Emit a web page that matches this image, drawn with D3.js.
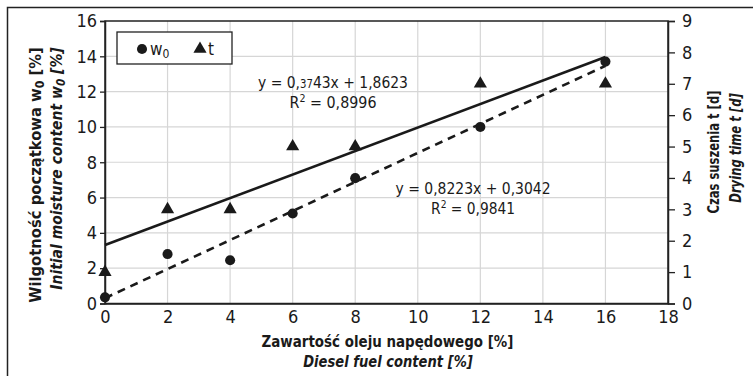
<!DOCTYPE html>
<html><head><meta charset="utf-8">
<script src="https://cdn.jsdelivr.net/npm/d3@7"></script>
<style>
body{margin:0;background:#fff;}
svg{display:block;}
text{font-family:"Liberation Sans Narrow","DejaVu Sans Condensed",sans-serif;fill:#1a1a1a;}
</style></head><body>
<svg id="c" width="753" height="376"></svg>
<script>
// ---- data ----
const dieselContent = [0, 2, 4, 6, 8, 12, 16];
const moistureW0 = [0.35, 2.8, 2.45, 5.1, 7.1, 10.0, 13.7];
const dryingTime = [1, 3, 3, 5, 5, 7, 7];
const xTicks = [0, 2, 4, 6, 8, 10, 12, 14, 16, 18];
const yLeftTicks = [0, 2, 4, 6, 8, 10, 12, 14, 16];
const yRightTicks = [0, 1, 2, 3, 4, 5, 6, 7, 8, 9];
const fitW0 = {slope: 0.8223, intercept: 0.3042};
const fitT = {slope: 0.3743, intercept: 1.8623};

const svg = d3.select("#c");
const L = 105, R = 668, T = 21, B = 303.5;
const x = d3.scaleLinear().domain([0, 18]).range([L, R]);
const yL = d3.scaleLinear().domain([0, 16]).range([B, T]);
const yR = d3.scaleLinear().domain([0, 9]).range([B, T]);

// figure frame (left & top)
svg.append("path").attr("d", "M7.5,376 V7.5 H753").attr("fill", "none").attr("stroke", "#222").attr("stroke-width", 1.5);

// grid
const g = svg.append("g");
g.selectAll(".gx").data(xTicks.filter(d => d > 0 && d < 18)).enter().append("line")
  .attr("x1", d => x(d)).attr("x2", d => x(d)).attr("y1", T).attr("y2", B)
  .attr("stroke", "#d6d6d6").attr("stroke-width", 1.2);
g.selectAll(".gy").data(yLeftTicks.filter(d => d > 0 && d < 16)).enter().append("line")
  .attr("x1", L).attr("x2", R).attr("y1", d => yL(d)).attr("y2", d => yL(d))
  .attr("stroke", "#d6d6d6").attr("stroke-width", 1.2);

// plot border
svg.append("rect").attr("x", L).attr("y", T).attr("width", R - L).attr("height", B - T)
  .attr("fill", "none").attr("stroke", "#222").attr("stroke-width", 1.5);

// axes
const fs = "18px";
const ax = svg.append("g").attr("transform", `translate(0,${B})`)
  .call(d3.axisBottom(x).tickValues(xTicks).tickSize(0).tickPadding(6));
const al = svg.append("g").attr("transform", `translate(${L},0)`)
  .call(d3.axisLeft(yL).tickValues(yLeftTicks).tickSize(5).tickPadding(3));
const ar = svg.append("g").attr("transform", `translate(${R},0)`)
  .call(d3.axisRight(yR).tickValues(yRightTicks).tickSize(7).tickPadding(7));
[ax, al, ar].forEach(a => {
  a.select(".domain").attr("stroke", "#222").attr("stroke-width", 1.5);
  a.selectAll(".tick line").attr("stroke", "#222").attr("stroke-width", 1.3);
  a.selectAll("text").attr("font-size", fs).attr("fill", "#1a1a1a")
    .style("font-family", '"Liberation Sans Narrow","DejaVu Sans Condensed",sans-serif');
});
ax.selectAll("text").attr("dy", "0.71em").attr("y", 7);

// fit lines
const fitLine = (f, ys) => d3.line()([[x(0), ys(f.intercept)], [x(16), ys(f.intercept + f.slope * 16)]]);
svg.append("path").attr("d", fitLine(fitW0, yL)).attr("stroke", "#1a1a1a").attr("stroke-width", 2.6)
  .attr("fill", "none").attr("stroke-dasharray", "8,6");
svg.append("path").attr("d", fitLine(fitT, yR)).attr("stroke", "#1a1a1a").attr("stroke-width", 2.6).attr("fill", "none");

// points
const circ = d3.symbol().type(d3.symbolCircle).size(80);
const tri = d3.symbol().type(d3.symbolTriangle).size(75);
svg.selectAll(".pw").data(dieselContent).enter().append("path")
  .attr("d", circ).attr("transform", (d, i) => `translate(${x(d)},${yL(moistureW0[i])})`).attr("fill", "#1a1a1a");
svg.selectAll(".pt").data(dieselContent).enter().append("path")
  .attr("d", tri).attr("transform", (d, i) => `translate(${x(d)},${yR(dryingTime[i])})`).attr("fill", "#1a1a1a");

// legend
svg.append("rect").attr("x", 117).attr("y", 32).attr("width", 115).attr("height", 32)
  .attr("fill", "#fff").attr("stroke", "#222").attr("stroke-width", 1.3);
svg.append("path").attr("d", circ).attr("transform", "translate(142,49)").attr("fill", "#1a1a1a");
svg.append("path").attr("d", tri).attr("transform", "translate(200,49)").attr("fill", "#1a1a1a");
const lw = svg.append("text").attr("x", 150).attr("y", 55).attr("font-size", "17px");
lw.append("tspan").text("w");
lw.append("tspan").attr("font-size", "12px").attr("dy", 3).text("0");
svg.append("text").attr("x", 208).attr("y", 55).attr("font-size", "17px").text("t");

// text helper: build text at origin, then scale horizontally to target length
function label(xp, yp, rot, parts, len, opts) {
  const gg = svg.append("g");
  const t = gg.append("text").attr("text-anchor", "middle").attr("font-size", opts.size);
  if (opts.bold) t.attr("font-weight", "bold");
  if (opts.italic) t.attr("font-style", "italic");
  parts.forEach(p => {
    const s = t.append("tspan").text(p.t);
    if (p.fs) s.attr("font-size", p.fs);
    if (p.dy) s.attr("dy", p.dy);
  });
  const w = t.node().getBBox().width;
  const sx = len / w;
  gg.attr("transform", `translate(${xp},${yp}) rotate(${rot}) scale(${sx},1)`);
}
const eqOpt = {size: "16.5px"};
label(333, 88, 0, [{t: "y = 0,"}, {t: "37", fs: "12px"}, {t: "43x + 1,8623"}], 150, eqOpt);
label(333, 108, 0, [{t: "R"}, {t: "2", fs: "11px", dy: -6}, {t: " = 0,8996", dy: 6}], 87, eqOpt);
label(473, 194, 0, [{t: "y = 0,8223x + 0,3042"}], 155, eqOpt);
label(473, 214, 0, [{t: "R"}, {t: "2", fs: "11px", dy: -6}, {t: " = 0,9841", dy: 6}], 84, eqOpt);

// axis titles
const tb = {size: "16px", bold: true}, tbi = {size: "16px", bold: true, italic: true};
label(387.5, 347, 0, [{t: "Zawartość oleju napędowego [%]"}], 252, tb);
label(388, 367, 0, [{t: "Diesel fuel content [%]"}], 170, tbi);
label(41, 175, -90, [{t: "Wilgotność początkowa w"}, {t: "0", fs: "12px", dy: 3}, {t: " [%]", dy: -3}], 256, tb);
label(62, 168.5, -90, [{t: "Initial moisture content w"}, {t: "0", fs: "12px", dy: 3}, {t: " [%]", dy: -3}], 243, tbi);
label(719, 152, -90, [{t: "Czas suszenia t [d]"}], 123, tb);
label(741, 148, -90, [{t: "Drying time t [d]"}], 110, tbi);
</script>
</body></html>
